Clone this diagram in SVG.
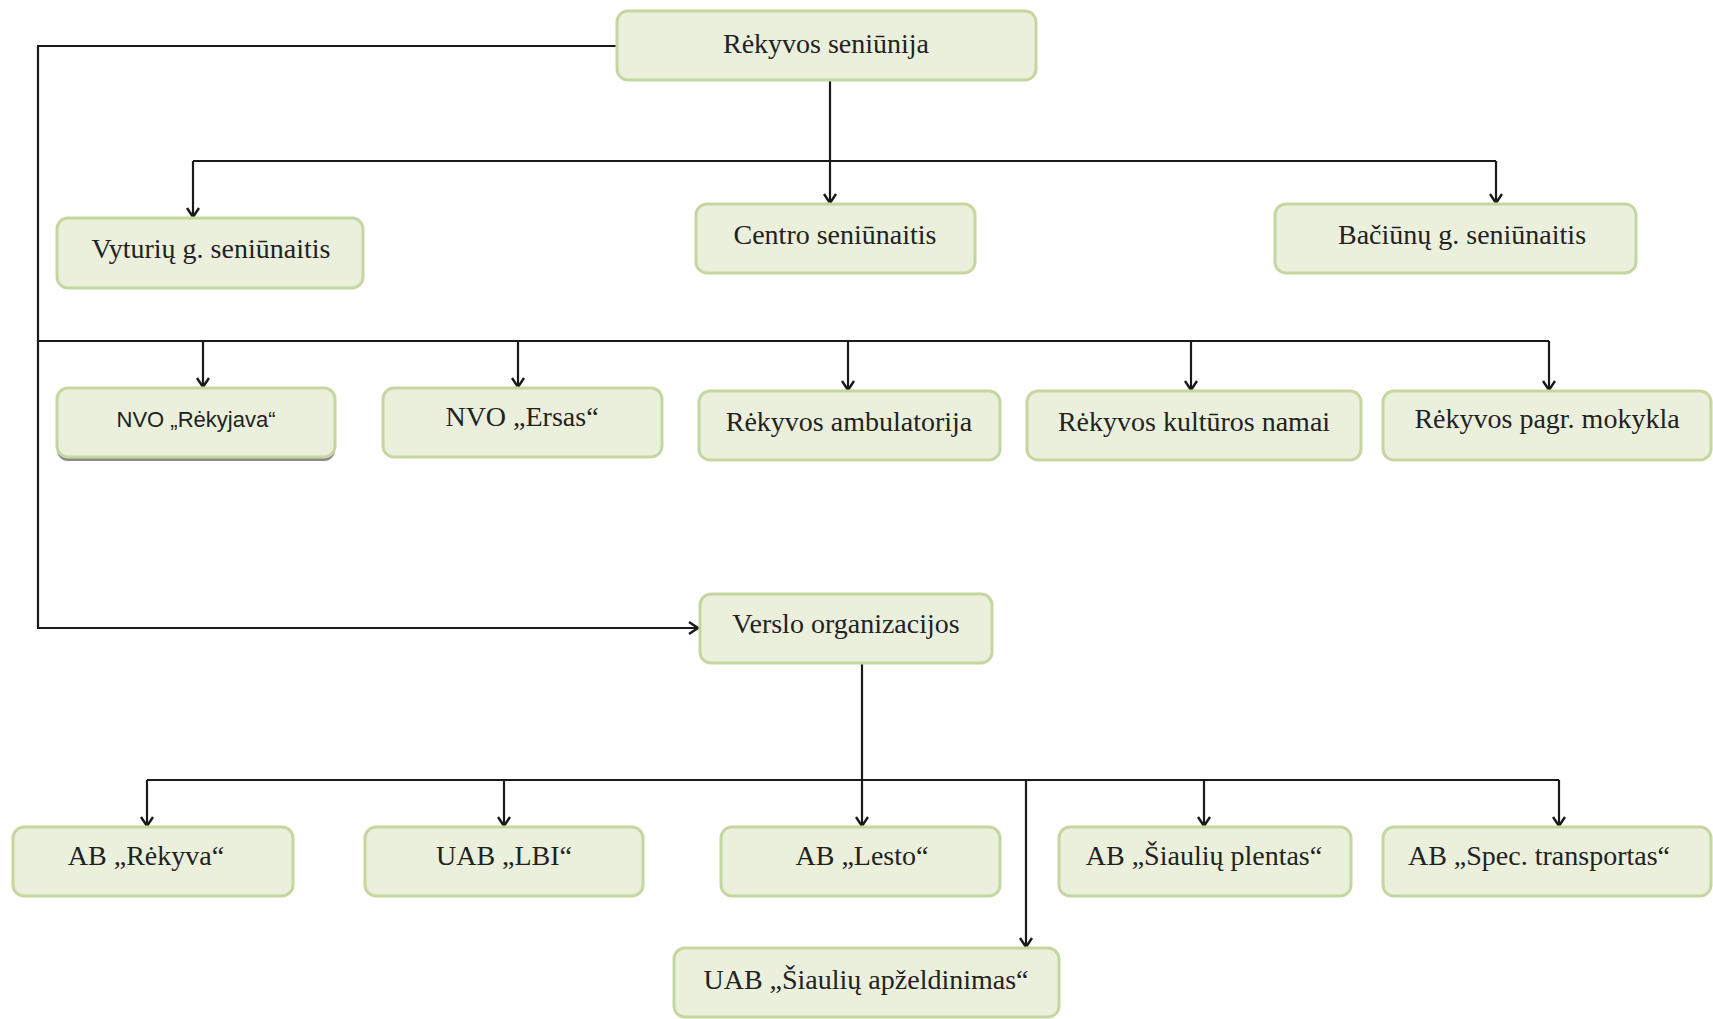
<svg xmlns="http://www.w3.org/2000/svg" width="1713" height="1019" viewBox="0 0 1713 1019">
<style>
.box{fill:#ebf0dc;stroke:#c5d6a0;stroke-width:3}
.t{font-family:"Liberation Serif","Times New Roman",serif;font-size:28px;fill:#222;text-anchor:middle}
.s{font-family:"Liberation Sans",Arial,sans-serif;font-size:22px;fill:#222;text-anchor:middle}
.c{fill:none;stroke:#1a1a1a;stroke-width:2.2}
</style>
<defs>
<marker id="arr" markerWidth="16" markerHeight="16" refX="13" refY="8" orient="auto" markerUnits="userSpaceOnUse">
<polyline points="4,2 13,8 4,14" fill="none" stroke="#1a1a1a" stroke-width="2.4"/>
</marker>
</defs>
<rect width="1713" height="1019" fill="#ffffff"/>
<g id="connectors">
<polyline class="c" points="617,46 38,46 38,628 698,628" marker-end="url(#arr)"/>
<line class="c" x1="830" y1="80" x2="830" y2="203" marker-end="url(#arr)"/>
<line class="c" x1="193" y1="161" x2="1496" y2="161"/>
<line class="c" x1="193" y1="161" x2="193" y2="217" marker-end="url(#arr)"/>
<line class="c" x1="1496" y1="161" x2="1496" y2="203" marker-end="url(#arr)"/>
<line class="c" x1="38" y1="341" x2="1549" y2="341"/>
<line class="c" x1="203" y1="341" x2="203" y2="387" marker-end="url(#arr)"/>
<line class="c" x1="518" y1="341" x2="518" y2="387" marker-end="url(#arr)"/>
<line class="c" x1="848" y1="341" x2="848" y2="390" marker-end="url(#arr)"/>
<line class="c" x1="1191" y1="341" x2="1191" y2="390" marker-end="url(#arr)"/>
<line class="c" x1="1549" y1="341" x2="1549" y2="390" marker-end="url(#arr)"/>
<line class="c" x1="862" y1="663" x2="862" y2="826" marker-end="url(#arr)"/>
<line class="c" x1="147" y1="780" x2="1559" y2="780"/>
<line class="c" x1="147" y1="780" x2="147" y2="826" marker-end="url(#arr)"/>
<line class="c" x1="504" y1="780" x2="504" y2="826" marker-end="url(#arr)"/>
<line class="c" x1="1204" y1="780" x2="1204" y2="826" marker-end="url(#arr)"/>
<line class="c" x1="1559" y1="780" x2="1559" y2="826" marker-end="url(#arr)"/>
<line class="c" x1="1026" y1="780" x2="1026" y2="947" marker-end="url(#arr)"/>
</g>
<g id="n-rekyvos-seniunija"><rect class="box" x="617" y="11" width="419" height="69" rx="11"/><text class="t" x="826" y="53">Rėkyvos seniūnija</text></g>
<g id="n-vyturiu"><rect class="box" x="57" y="218" width="306" height="70" rx="11"/><text class="t" x="211" y="258">Vyturių g. seniūnaitis</text></g>
<g id="n-centro"><rect class="box" x="696" y="204" width="279" height="69" rx="11"/><text class="t" x="835" y="244">Centro seniūnaitis</text></g>
<g id="n-baciunu"><rect class="box" x="1275" y="204" width="361" height="69" rx="11"/><text class="t" x="1462" y="244">Bačiūnų g. seniūnaitis</text></g>
<g id="n-nvo-rekyjava"><rect x="57" y="392" width="278" height="69" rx="11" fill="#8a8a8a"/><rect class="box" x="57" y="388" width="278" height="69" rx="11"/><text class="s" x="196" y="427">NVO „Rėkyjava“</text></g>
<g id="n-nvo-ersas"><rect class="box" x="383" y="388" width="279" height="69" rx="11"/><text class="t" x="522" y="426">NVO „Ersas“</text></g>
<g id="n-ambulatorija"><rect class="box" x="699" y="391" width="301" height="69" rx="11"/><text class="t" x="849" y="431">Rėkyvos ambulatorija</text></g>
<g id="n-kulturos"><rect class="box" x="1027" y="391" width="334" height="69" rx="11"/><text class="t" x="1194" y="431">Rėkyvos kultūros namai</text></g>
<g id="n-mokykla"><rect class="box" x="1383" y="391" width="328" height="69" rx="11"/><text class="t" x="1547" y="428">Rėkyvos pagr. mokykla</text></g>
<g id="n-verslo"><rect class="box" x="700" y="594" width="292" height="69" rx="11"/><text class="t" x="846" y="633">Verslo organizacijos</text></g>
<g id="n-ab-rekyva"><rect class="box" x="13" y="827" width="280" height="69" rx="11"/><text class="t" x="146" y="865">AB „Rėkyva“</text></g>
<g id="n-uab-lbi"><rect class="box" x="365" y="827" width="278" height="69" rx="11"/><text class="t" x="504" y="865">UAB „LBI“</text></g>
<g id="n-ab-lesto"><rect class="box" x="721" y="827" width="279" height="69" rx="11"/><text class="t" x="862" y="865">AB „Lesto“</text></g>
<g id="n-ab-siauliu-plentas"><rect class="box" x="1059" y="827" width="292" height="69" rx="11"/><text class="t" x="1204" y="865">AB „Šiaulių plentas“</text></g>
<g id="n-ab-spec"><rect class="box" x="1383" y="827" width="328" height="69" rx="11"/><text class="t" x="1539" y="865">AB „Spec. transportas“</text></g>
<g id="n-uab-apzeldinimas"><rect class="box" x="674" y="948" width="385" height="69" rx="11"/><text class="t" x="866" y="989">UAB „Šiaulių apželdinimas“</text></g>
</svg>
